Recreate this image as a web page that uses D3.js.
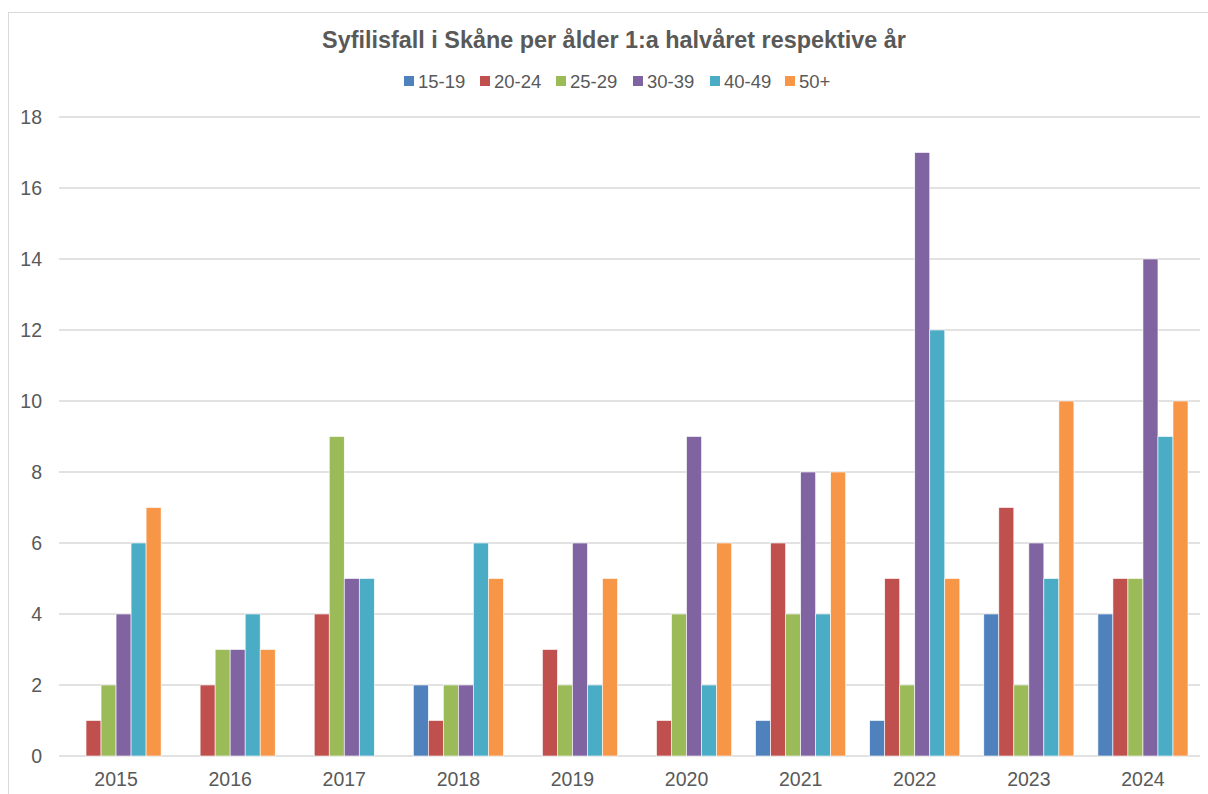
<!DOCTYPE html>
<html>
<head>
<meta charset="utf-8">
<script src="https://cdn.jsdelivr.net/npm/d3@7"></script>
<style>
  body { margin: 0; background: #fff; }
  text { font-family: "Liberation Sans", Arial, sans-serif; fill: #595959; }
</style>
</head>
<body>
<div id="chart"></div>
<script>
// data
var years = ["2015","2016","2017","2018","2019","2020","2021","2022","2023","2024"];
var groups = ["15-19","20-24","25-29","30-39","40-49","50+"];
var v1519 = [0,0,0,2,0,0,1,1,4,4];
var v2024 = [1,2,4,1,3,1,6,5,7,5];
var v2529 = [2,3,9,2,2,4,4,2,2,5];
var v3039 = [4,3,5,2,6,9,8,17,6,14];
var v4049 = [6,4,5,6,2,2,4,12,5,9];
var v50 = [7,3,0,5,5,6,8,5,10,10];
var yTicks = [0,2,4,6,8,10,12,14,16,18];

var series = [v1519, v2024, v2529, v3039, v4049, v50];
var colors = ["#4F81BD","#C0504D","#9BBB59","#8064A2","#4BACC6","#F79646"];

var W = 1208, H = 794;
var pLeft = 59, pRight = 1200, pTop = 117, pBottom = 756;

var svg = d3.select("#chart").append("svg")
  .attr("width", W).attr("height", H);

// outer border
svg.append("rect")
  .attr("x", 8.5).attr("y", 12.5)
  .attr("width", 1215).attr("height", 800)
  .attr("fill", "none").attr("stroke", "#d9d9d9");

var x = d3.scaleBand().domain(years).range([pLeft, pRight]);
var gap = 24;
var x1 = d3.scaleBand().domain(groups).range([gap / 2, x.bandwidth() - gap / 2]);
var y = d3.scaleLinear().domain([0, 18]).range([pBottom, pTop]);

// gridlines
svg.append("g").selectAll("line").data(yTicks).enter().append("line")
  .attr("x1", pLeft).attr("x2", pRight)
  .attr("y1", function(d) { return y(d); }).attr("y2", function(d) { return y(d); })
  .attr("stroke", "#d9d9d9").attr("stroke-width", 1.3);

// y axis labels
var yAxis = d3.axisLeft(y).tickValues(yTicks).tickSize(0).tickPadding(0);
var gy = svg.append("g").attr("transform", "translate(42,0)").call(yAxis);
gy.select(".domain").remove();
gy.selectAll("text").style("font-size", "19.5px").attr("fill", "#595959")
  .attr("font-family", null);

// x axis labels
var xAxis = d3.axisBottom(x).tickSize(0).tickPadding(0);
var gx = svg.append("g").attr("transform", "translate(0," + (pBottom + 16) + ")").call(xAxis);
gx.select(".domain").remove();
gx.selectAll("text").style("font-size", "19.5px").attr("fill", "#595959")
  .attr("font-family", null);

// bars
var g = svg.selectAll(".grp").data(years).enter().append("g")
  .attr("class", "grp")
  .attr("transform", function(d) { return "translate(" + x(d) + ",0)"; });

g.selectAll("rect")
  .data(function(d, i) { return groups.map(function(gname, k) { return { k: gname, v: series[k][i], c: colors[k] }; }); })
  .enter().append("rect")
  .attr("x", function(d) { return x1(d.k); })
  .attr("width", x1.bandwidth())
  .attr("y", function(d) { return y(d.v); })
  .attr("height", function(d) { return pBottom - y(d.v); })
  .attr("fill", function(d) { return d.c; })
  .attr("stroke", "#fff").attr("stroke-width", 0.6);

// title
svg.append("text")
  .attr("x", 614).attr("y", 48)
  .attr("text-anchor", "middle")
  .style("font-size", "23.4px").style("font-weight", "bold")
  .text("Syfilisfall i Skåne per ålder 1:a halvåret respektive år");

// legend
var legX = [404, 480, 556, 633, 710, 785];
var leg = svg.selectAll(".leg").data(groups).enter().append("g")
  .attr("class", "leg")
  .attr("transform", function(d, i) { return "translate(" + legX[i] + ",81)"; });
leg.append("rect").attr("x", 0).attr("y", -5).attr("width", 10).attr("height", 10)
  .attr("fill", function(d, i) { return colors[i]; });
leg.append("text").attr("x", 14).attr("y", 7).style("font-size", "18.5px")
  .text(function(d) { return d; });
</script>
</body>
</html>
